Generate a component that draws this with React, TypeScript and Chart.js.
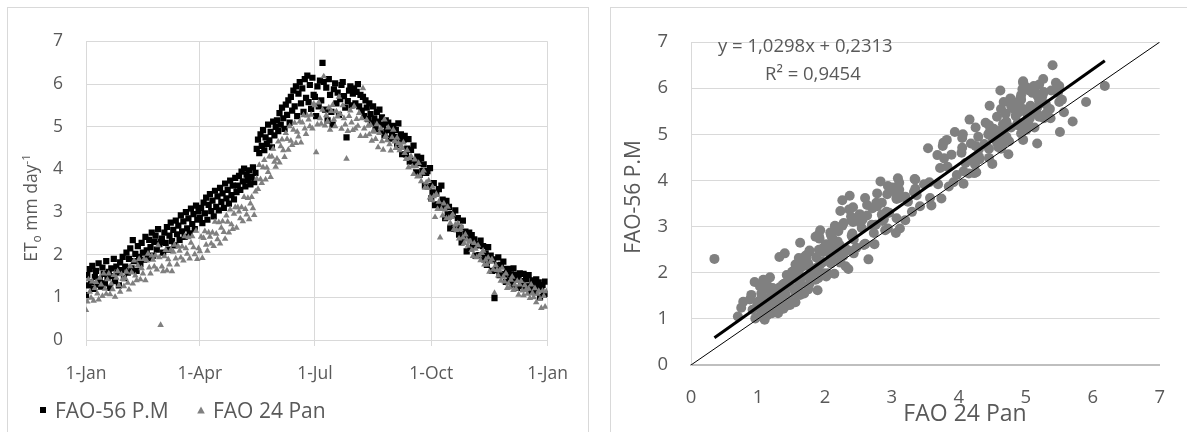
import React, { useEffect, useRef } from 'react';
import { Chart, registerables } from 'chart.js';

Chart.register(...registerables);

const FONT = '"Open Sans", sans-serif';
const TEXT = '#595959';
const GRID = '#d9d9d9';

// Day-of-year positions for the month tick marks and their labels
const monthTicks = [0, 90, 181, 273, 365];
const monthLabels = ['1-Jan', '1-Apr', '1-Jul', '1-Oct', '1-Jan'];

// Daily ET0 (mm/day), FAO-56 Penman-Monteith, one line per month
const fao56 = [
  1.05, 1.52, 1.28, 1.66, 1.35, 1.74, 1.20, 1.48, 1.62, 1.30, 1.80, 1.42, 1.25, 1.70, 1.55, 1.33, 1.85, 1.46, 1.60, 1.22, 1.68, 1.50, 1.90, 1.38, 1.72, 1.58, 1.28, 1.82, 1.64, 1.95, 1.45,
  1.72, 2.05, 1.58, 1.90, 2.15, 1.68, 2.34, 1.85, 2.02, 1.62, 2.20, 1.95, 1.78, 2.28, 2.05, 1.88, 2.42, 2.10, 1.92, 2.35, 2.18, 2.52, 1.98, 2.30, 2.45, 2.12, 2.60, 2.25,
  2.30, 2.38, 2.05, 2.52, 2.28, 2.65, 2.12, 2.45, 2.75, 2.32, 2.58, 2.22, 2.80, 2.48, 2.68, 2.35, 2.92, 2.55, 2.78, 2.42, 3.00, 2.62, 2.85, 2.50, 3.08, 2.72, 2.95, 2.60, 3.15, 2.82, 3.02,
  2.87, 3.10, 2.74, 3.22, 2.97, 3.34, 2.82, 3.17, 3.42, 3.02, 3.27, 2.90, 3.50, 3.12, 3.37, 3.04, 3.57, 3.24, 3.44, 3.10, 3.67, 3.32, 3.52, 3.20, 3.74, 3.40, 3.62, 3.30, 3.80, 3.47,
  3.62, 3.85, 3.52, 3.95, 3.72, 4.02, 3.60, 3.88, 3.75, 3.98, 3.65, 3.82, 4.05, 3.70, 3.92, 4.48, 4.70, 4.38, 4.82, 4.55, 4.92, 4.45, 4.75, 4.60, 5.05, 4.68, 4.88, 4.52, 5.12, 4.80, 5.00,
  5.15, 4.90, 5.32, 5.05, 5.45, 5.20, 4.95, 5.52, 5.28, 5.62, 5.10, 5.70, 5.38, 5.85, 5.48, 5.95, 5.25, 5.78, 6.05, 5.55, 5.90, 5.35, 6.12, 5.68, 6.20, 5.58, 5.98, 5.42, 6.15, 5.75,
  5.70, 5.25, 5.95, 5.48, 6.08, 5.62, 6.50, 6.05, 5.40, 5.92, 5.15, 6.12, 5.75, 5.35, 5.05, 5.88, 6.02, 5.55, 5.80, 5.28, 5.65, 5.98, 6.05, 5.72, 5.45, 4.75, 5.60, 5.85, 5.95, 5.50, 5.78,
  5.90, 5.55, 5.82, 6.00, 5.48, 5.75, 5.38, 5.70, 5.25, 5.62, 5.45, 5.18, 5.55, 5.30, 5.08, 5.48, 5.20, 4.95, 5.35, 5.12, 5.40, 4.88, 5.22, 5.05, 4.80, 5.15, 4.92, 5.10, 4.72, 5.00, 4.85,
  5.02, 4.76, 4.92, 4.57, 5.08, 4.69, 4.82, 4.36, 4.69, 4.79, 4.35, 4.49, 4.71, 4.18, 4.46, 4.20, 4.56, 4.16, 3.93, 4.30, 4.15, 3.87, 4.27, 3.96, 4.12, 3.62, 3.92, 3.96, 3.61, 4.03,
  3.32, 3.46, 3.68, 3.16, 3.44, 3.18, 3.54, 3.14, 3.62, 3.29, 3.14, 2.86, 3.26, 2.96, 3.12, 2.62, 2.92, 2.96, 2.62, 3.04, 2.60, 2.86, 2.47, 2.63, 2.29, 2.80, 2.41, 2.54, 2.08, 2.42, 2.52,
  2.14, 2.46, 2.23, 2.36, 1.98, 2.22, 2.25, 1.99, 2.33, 1.99, 2.20, 1.89, 2.03, 1.76, 2.18, 1.87, 1.98, 1.62, 1.89, 0.98, 1.64, 1.75, 1.94, 1.52, 1.76, 1.55, 1.84, 1.54, 1.36, 1.67,
  1.66, 1.40, 1.54, 1.30, 1.68, 1.42, 1.53, 1.22, 1.48, 1.56, 1.27, 1.38, 1.55, 1.21, 1.42, 1.26, 1.52, 1.25, 1.12, 1.40, 1.30, 1.12, 1.42, 1.23, 1.35, 1.01, 1.24, 1.29, 1.06, 1.37, 1.08,
];

// Daily ET0 (mm/day), FAO 24 Pan, one line per month
const fao24 = [
  0.70, 0.90, 1.42, 1.13, 0.99, 1.37, 0.92, 1.22, 1.36, 1.09, 0.95, 1.46, 1.30, 1.03, 1.56, 1.20, 1.08, 1.42, 1.56, 1.07, 1.32, 1.19, 1.52, 1.01, 1.46, 1.61, 1.28, 1.13, 1.54, 1.43, 1.26,
  1.45, 1.60, 1.34, 1.18, 1.73, 1.58, 1.32, 1.86, 1.51, 1.40, 1.75, 1.90, 1.42, 1.68, 1.56, 1.90, 1.40, 1.86, 2.02, 1.70, 1.56, 1.98, 1.88, 1.72, 1.98, 1.65, 2.22, 1.94,
  0.35, 1.72, 1.61, 1.96, 2.11, 1.63, 1.89, 1.77, 2.11, 1.61, 2.07, 2.23, 1.91, 1.77, 2.19, 2.09, 1.93, 2.19, 1.86, 2.43, 2.15, 2.02, 2.41, 1.91, 2.28, 2.43, 2.17, 2.01, 2.56, 1.90, 2.15,
  2.08, 2.42, 1.92, 2.39, 2.55, 2.23, 2.09, 2.52, 2.42, 2.26, 2.52, 2.20, 2.77, 2.49, 2.36, 2.76, 2.26, 2.63, 2.78, 2.53, 2.37, 2.92, 2.77, 2.52, 3.06, 2.71, 2.60, 2.96, 3.11, 2.63,
  3.11, 3.01, 2.85, 3.11, 2.78, 3.35, 3.07, 2.94, 3.33, 2.83, 3.20, 3.35, 3.09, 2.93, 3.48, 3.78, 3.54, 4.10, 3.77, 3.68, 4.05, 4.22, 3.76, 4.04, 3.94, 4.30, 3.82, 4.30, 4.48, 4.18, 4.06,
  4.25, 4.65, 4.16, 4.54, 4.70, 4.45, 4.29, 4.85, 4.71, 4.46, 5.01, 4.67, 4.57, 4.93, 5.09, 4.62, 4.88, 4.77, 5.12, 4.63, 5.10, 5.27, 4.96, 4.83, 5.26, 5.17, 5.01, 5.28, 4.96, 5.54,
  5.50, 4.40, 5.05, 5.57, 5.20, 5.07, 5.40, 6.18, 5.03, 5.27, 5.13, 5.45, 4.93, 5.37, 5.51, 5.17, 5.01, 5.36, 5.24, 5.70, 5.30, 4.95, 5.50, 5.20, 5.05, 4.25, 4.90, 5.25, 5.38, 5.10, 4.92,
  5.48, 4.96, 5.18, 5.02, 5.32, 4.78, 5.20, 5.90, 4.96, 4.78, 5.16, 5.02, 4.82, 5.04, 4.67, 4.90, 4.88, 4.71, 5.06, 4.52, 4.85, 4.96, 4.66, 4.46, 5.17, 4.78, 4.68, 4.98, 4.59, 4.44, 4.75,
  4.93, 4.65, 4.50, 4.74, 4.62, 4.45, 4.57, 4.50, 4.63, 4.38, 4.24, 4.45, 4.05, 4.26, 4.31, 4.07, 3.89, 4.23, 4.07, 3.83, 4.15, 3.85, 3.72, 3.92, 3.97, 3.57, 3.69, 3.56, 3.74, 3.34,
  3.30, 3.59, 3.37, 2.88, 3.42, 3.07, 3.24, 2.40, 3.07, 2.92, 3.20, 3.06, 2.85, 3.12, 2.86, 2.74, 2.90, 2.94, 2.60, 2.70, 2.58, 2.73, 2.38, 2.60, 2.65, 2.40, 2.27, 2.47, 2.35, 2.21, 2.31,
  2.31, 2.11, 1.97, 2.27, 2.14, 1.94, 2.22, 1.98, 1.87, 2.04, 2.09, 1.77, 1.88, 1.77, 1.93, 1.60, 1.83, 1.89, 1.65, 1.10, 1.75, 1.64, 1.51, 1.63, 1.39, 1.69, 1.48, 1.37, 1.56, 1.22,
  1.32, 1.23, 1.41, 1.48, 1.17, 1.30, 1.20, 1.38, 1.06, 1.30, 1.38, 1.16, 1.05, 1.28, 1.19, 1.08, 1.20, 0.98, 1.30, 1.10, 1.00, 1.21, 0.88, 1.08, 1.15, 0.96, 0.75, 1.15, 1.03, 0.78, 1.14,
];

// Regression shown on the scatter panel
const trendSlope = 1.0298;
const trendIntercept = 0.2313;
const equationText = 'y = 1,0298x + 0,2313';
const r2Text = 'R² = 0,9454';
const identityRange = [0, 7];

const seriesNames = ['FAO-56 P.M', 'FAO 24 Pan'];

const leftDecor = {
  id: 'leftDecor',
  afterDraw(chart: any) {
    const ctx = chart.ctx as CanvasRenderingContext2D;
    ctx.save();
    ctx.fillStyle = TEXT;
    const parts = [
      { t: 'ET', size: 17.5, dy: 0 },
      { t: 'o', size: 12, dy: 4 },
      { t: ' mm day', size: 17.5, dy: 0 },
      { t: '-1', size: 11.5, dy: -7 },
    ];
    let total = 0;
    const widths: number[] = [];
    for (const p of parts) {
      ctx.font = `${p.size}px ${FONT}`;
      const w = ctx.measureText(p.t).width;
      widths.push(w);
      total += w;
    }
    ctx.translate(29, 200);
    ctx.rotate(-Math.PI / 2);
    ctx.textAlign = 'left';
    ctx.textBaseline = 'alphabetic';
    let x = -total / 2;
    parts.forEach((p, i) => {
      ctx.font = `${p.size}px ${FONT}`;
      ctx.fillText(p.t, x, p.dy);
      x += widths[i];
    });
    ctx.restore();

    // legend
    ctx.save();
    ctx.fillStyle = '#000';
    ctx.fillRect(32, 399, 6, 6);
    ctx.fillStyle = '#808080';
    ctx.beginPath();
    ctx.moveTo(193, 398.5);
    ctx.lineTo(196.8, 405.5);
    ctx.lineTo(189.2, 405.5);
    ctx.closePath();
    ctx.fill();
    ctx.fillStyle = TEXT;
    ctx.font = `21px ${FONT}`;
    ctx.textAlign = 'left';
    ctx.textBaseline = 'alphabetic';
    ctx.fillText(seriesNames[0], 47, 410);
    ctx.fillText(seriesNames[1], 205, 410);
    ctx.restore();
  },
};

const rightDecor = {
  id: 'rightDecor',
  afterDraw(chart: any) {
    const ctx = chart.ctx as CanvasRenderingContext2D;
    ctx.save();
    ctx.fillStyle = TEXT;
    ctx.textBaseline = 'alphabetic';
    ctx.font = `21px ${FONT}`;
    ctx.save();
    ctx.translate(29, 189);
    ctx.rotate(-Math.PI / 2);
    ctx.textAlign = 'center';
    ctx.fillText(seriesNames[0], 0, 0);
    ctx.restore();
    ctx.font = `23px ${FONT}`;
    ctx.textAlign = 'center';
    ctx.fillText(seriesNames[1], 354, 413);
    ctx.font = `18.5px ${FONT}`;
    ctx.textAlign = 'left';
    ctx.fillText(equationText, 107, 44);
    ctx.fillText(r2Text, 154, 72);
    ctx.restore();
  },
};

export default function App() {
  const leftRef = useRef<HTMLCanvasElement>(null);
  const rightRef = useRef<HTMLCanvasElement>(null);

  useEffect(() => {
    const tickFontL = { family: FONT, size: 17.5 };
    const tickFontR = { family: FONT, size: 18.5 };

    const left = new Chart(leftRef.current!, {
      type: 'scatter',
      data: {
        datasets: [
          {
            label: seriesNames[1],
            data: fao24.map((v, i) => ({ x: i, y: v })),
            pointStyle: 'triangle',
            pointRadius: 3.8,
            backgroundColor: '#808080',
            borderColor: '#808080',
            borderWidth: 0,
            order: 0,
          },
          {
            label: seriesNames[0],
            data: fao56.map((v, i) => ({ x: i, y: v })),
            pointStyle: 'rect',
            pointRadius: 4.4,
            backgroundColor: '#000000',
            borderColor: '#000000',
            borderWidth: 0,
            order: 1,
          },
        ],
      },
      options: {
        animation: false,
        responsive: false,
        maintainAspectRatio: false,
        devicePixelRatio: 1,
        events: [],
        layout: { padding: { top: 33, right: 27, left: 0, bottom: 0 } },
        plugins: { legend: { display: false }, tooltip: { enabled: false } },
        scales: {
          x: {
            type: 'linear',
            min: 0,
            max: 365,
            afterBuildTicks: (s: any) => {
              s.ticks = monthTicks.map((v) => ({ value: v }));
            },
            afterFit: (s: any) => {
              s.height = 92;
            },
            grid: { color: GRID, drawTicks: true, tickLength: 6 },
            border: { color: GRID },
            ticks: {
              autoSkip: false,
              maxRotation: 0,
              padding: 18,
              color: TEXT,
              font: tickFontL,
              callback: (_v: any, i: number) => monthLabels[i],
            },
          },
          y: {
            min: 0,
            max: 7,
            afterFit: (s: any) => {
              s.width = 78;
            },
            grid: { color: GRID, drawTicks: false },
            border: { display: false },
            ticks: { stepSize: 1, padding: 23, color: TEXT, font: tickFontL },
          },
        },
      },
      plugins: [leftDecor],
    } as any);

    const trendX = [Math.min(...fao24), Math.max(...fao24)];
    const right = new Chart(rightRef.current!, {
      type: 'scatter',
      data: {
        datasets: [
          {
            type: 'line',
            label: 'trend',
            data: trendX.map((x) => ({ x, y: trendSlope * x + trendIntercept })),
            borderColor: '#000',
            borderWidth: 3,
            pointRadius: 0,
            order: 0,
          },
          {
            type: 'line',
            label: '1:1',
            data: identityRange.map((v) => ({ x: v, y: v })),
            borderColor: '#000',
            borderWidth: 1,
            pointRadius: 0,
            order: 0,
          },
          {
            label: 'pairs',
            data: fao24.map((x, i) => ({ x, y: fao56[i] })),
            pointStyle: 'circle',
            pointRadius: 5,
            backgroundColor: '#808080',
            borderColor: '#808080',
            borderWidth: 0,
            order: 1,
          },
        ],
      },
      options: {
        animation: false,
        responsive: false,
        maintainAspectRatio: false,
        devicePixelRatio: 1,
        events: [],
        layout: { padding: { top: 22, right: 20, left: 0, bottom: 0 } },
        plugins: { legend: { display: false }, tooltip: { enabled: false } },
        scales: {
          x: {
            type: 'linear',
            min: 0,
            max: 7,
            afterFit: (s: any) => {
              s.height = 67;
            },
            grid: { color: 'rgba(0,0,0,0)', drawTicks: false },
            border: { color: '#bfbfbf', width: 2 },
            ticks: { stepSize: 1, padding: 22, color: TEXT, font: tickFontR, maxRotation: 0 },
          },
          y: {
            min: 0,
            max: 7,
            afterFit: (s: any) => {
              s.width = 80;
            },
            grid: { color: GRID, drawTicks: false },
            border: { color: GRID, width: 1 },
            ticks: { stepSize: 1, padding: 23, color: TEXT, font: tickFontR },
          },
        },
      },
      plugins: [rightDecor],
    } as any);

    return () => {
      left.destroy();
      right.destroy();
    };
  }, []);

  return (
    <div
      style={{
        position: 'absolute',
        left: 0,
        top: 0,
        width: 1187,
        height: 432,
        overflow: 'hidden',
        background: '#fff',
      }}
    >
      <div
        style={{
          position: 'absolute',
          left: 7,
          top: 7,
          width: 580,
          height: 460,
          border: `1px solid ${GRID}`,
        }}
      />
      <div
        style={{
          position: 'absolute',
          left: 610,
          top: 7,
          width: 600,
          height: 460,
          border: `1px solid ${GRID}`,
        }}
      />
      <canvas
        ref={leftRef}
        width={578}
        height={424}
        style={{ position: 'absolute', left: 8, top: 8, width: 578, height: 424 }}
      />
      <canvas
        ref={rightRef}
        width={576}
        height={424}
        style={{ position: 'absolute', left: 611, top: 8, width: 576, height: 424 }}
      />
    </div>
  );
}
